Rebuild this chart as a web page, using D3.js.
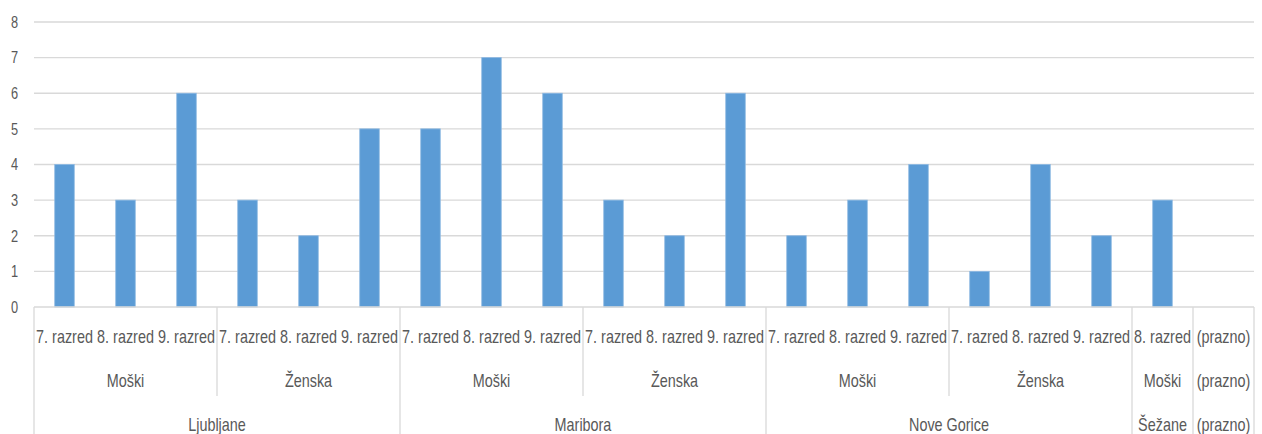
<!DOCTYPE html>
<html>
<head>
<meta charset="utf-8">
<script src="https://cdn.jsdelivr.net/npm/d3@7"></script>
<style>
  html, body { margin: 0; padding: 0; background: #ffffff; }
  svg { display: block; }
  text { font-family: "Liberation Sans", "DejaVu Sans", sans-serif; fill: #595959; }
</style>
</head>
<body>
<svg id="chart" width="1262" height="434"></svg>
<script>
// Three-level category axis: city > gender > grade
const cities   = ["Ljubljane", "Maribora", "Nove Gorice", "Šežane", "(prazno)"];
const genders  = [
  ["Moški", "Ženska"],
  ["Moški", "Ženska"],
  ["Moški", "Ženska"],
  ["Moški"],
  ["(prazno)"]
];
const grades = [
  [["7. razred", "8. razred", "9. razred"], ["7. razred", "8. razred", "9. razred"]],
  [["7. razred", "8. razred", "9. razred"], ["7. razred", "8. razred", "9. razred"]],
  [["7. razred", "8. razred", "9. razred"], ["7. razred", "8. razred", "9. razred"]],
  [["8. razred"]],
  [["(prazno)"]]
];
const counts = [
  [[4, 3, 6], [3, 2, 5]],
  [[5, 7, 6], [3, 2, 6]],
  [[2, 3, 4], [1, 4, 2]],
  [[3]],
  [[null]]
];
const yTicks = [0, 1, 2, 3, 4, 5, 6, 7, 8];

// Flatten into leaf rows
const rows = [];
cities.forEach((c, ci) => {
  genders[ci].forEach((g, gi) => {
    grades[ci][gi].forEach((r, ri) => {
      rows.push({ key: `${ci}|${gi}|${ri}`, city: c, ci, gender: g, gi, grade: r, value: counts[ci][gi][ri] });
    });
  });
});

const svg = d3.select("#chart");
const plotLeft = 34, plotRight = 1254, plotTop = 22, plotBase = 307;
const row1Y = 337, row2Y = 381, row3Y = 425;
const groupSepBottom = 396, svgBottom = 434;
const sx = 0.8; // condensed glyph width

const x = d3.scaleBand()
  .domain(rows.map(d => d.key))
  .range([plotLeft, plotRight])
  .paddingInner(0.68)
  .paddingOuter(0.34);

const y = d3.scaleLinear().domain([0, 8]).range([plotBase, plotTop]);

// Gridlines
svg.append("g")
  .selectAll("line")
  .data(yTicks.filter(t => t > 0))
  .join("line")
  .attr("x1", plotLeft).attr("x2", plotRight)
  .attr("y1", d => y(d)).attr("y2", d => y(d))
  .attr("stroke", "#d9d9d9").attr("stroke-width", 1.3);

// Value axis labels
svg.append("g")
  .selectAll("text")
  .data(yTicks)
  .join("text")
  .attr("transform", d => `translate(18,${y(d)}) scale(${sx},1)`)
  .attr("text-anchor", "end")
  .attr("dy", "0.36em")
  .attr("font-size", 16)
  .text(d => d);

// Bars
svg.append("g")
  .selectAll("rect")
  .data(rows.filter(d => d.value != null))
  .join("rect")
  .attr("x", d => x(d.key))
  .attr("width", x.bandwidth())
  .attr("y", d => y(d.value))
  .attr("height", d => y(0) - y(d.value))
  .attr("fill", "#5b9bd5")
  .attr("stroke", "#8db9e3")
  .attr("stroke-width", 0.8);

// Category axis baseline
svg.append("line")
  .attr("x1", plotLeft).attr("x2", plotRight)
  .attr("y1", plotBase).attr("y2", plotBase)
  .attr("stroke", "#d9d9d9").attr("stroke-width", 1.3);

const step = x.step();
const slotLeft = d => x(d.key) - x.paddingInner() * step / 2;

// Leaf labels
svg.append("g")
  .selectAll("text")
  .data(rows)
  .join("text")
  .attr("transform", d => `translate(${x(d.key) + x.bandwidth() / 2},${row1Y}) scale(${sx},1)`)
  .attr("text-anchor", "middle")
  .attr("dy", "0.36em")
  .attr("font-size", 18)
  .text(d => d.grade);

// Gender groups and city groups
const genderGroups = d3.flatGroup(rows, d => d.ci, d => d.gi).map(([ci, gi, items]) => ({ ci, gi, items }));
const cityGroups = d3.flatGroup(rows, d => d.ci).map(([ci, items]) => ({ ci, items }));

const span = items => {
  const x0 = slotLeft(items[0]);
  const x1 = slotLeft(items[items.length - 1]) + step;
  return [x0, x1];
};

svg.append("g")
  .selectAll("text")
  .data(genderGroups)
  .join("text")
  .attr("transform", d => { const [a, b] = span(d.items); return `translate(${(a + b) / 2},${row2Y}) scale(${sx},1)`; })
  .attr("text-anchor", "middle")
  .attr("dy", "0.36em")
  .attr("font-size", 18)
  .text(d => d.items[0].gender);

svg.append("g")
  .selectAll("text")
  .data(cityGroups)
  .join("text")
  .attr("transform", d => { const [a, b] = span(d.items); return `translate(${(a + b) / 2},${row3Y}) scale(${sx},1)`; })
  .attr("text-anchor", "middle")
  .attr("dy", "0.36em")
  .attr("font-size", 18)
  .text(d => d.items[0].city);

// Separators: gender boundaries inside a city stop above the city row
const innerSeps = genderGroups.filter(g => g.gi > 0).map(g => span(g.items)[0]);
svg.append("g")
  .selectAll("line")
  .data(innerSeps)
  .join("line")
  .attr("x1", d => d).attr("x2", d => d)
  .attr("y1", plotBase).attr("y2", groupSepBottom)
  .attr("stroke", "#d9d9d9").attr("stroke-width", 1.3);

const citySeps = cityGroups.map(c => span(c.items)[0]).concat([plotRight]);
svg.append("g")
  .selectAll("line")
  .data(citySeps)
  .join("line")
  .attr("x1", d => d).attr("x2", d => d)
  .attr("y1", plotBase).attr("y2", svgBottom)
  .attr("stroke", "#d9d9d9").attr("stroke-width", 1.3);
</script>
</body>
</html>
